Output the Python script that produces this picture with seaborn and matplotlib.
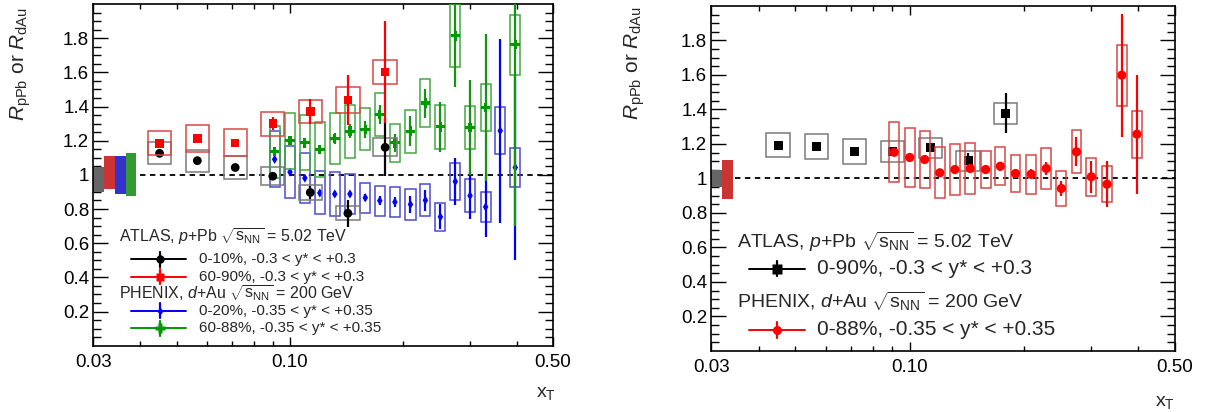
import matplotlib

matplotlib.use("Agg")
import numpy as np
import pandas as pd
import seaborn as sns
import matplotlib.pyplot as plt
from matplotlib.patches import Rectangle
from matplotlib.ticker import FixedLocator, FuncFormatter, NullFormatter

# ---- data ----
# ATLAS p+Pb, xT bin centres (shared by both panels)
atlas_xt = [0.0450, 0.0567, 0.0715, 0.0900, 0.1132, 0.1425, 0.1790]
# left panel: 0-10% and 60-90%
atlas_c010 = [1.126, 1.083, 1.043, 0.992, 0.897, 0.775, 1.161]
atlas_c010_stat = [0.005, 0.005, 0.008, 0.02, 0.04, 0.08, 0.17]
atlas_c010_sys = [0.065, 0.065, 0.068, 0.053, 0.042, 0.04, 0.053]
atlas_c6090 = [1.184, 1.213, 1.187, 1.300, 1.371, 1.439, 1.601]
atlas_c6090_stat = [0.01, 0.015, 0.015, 0.04, 0.075, 0.145, 0.30]
atlas_c6090_sys = [0.07, 0.077, 0.079, 0.07, 0.066, 0.077, 0.071]
# right panel: 0-90%
atlas_c090 = [1.193, 1.184, 1.155, 1.155, 1.178, 1.104, 1.377]
atlas_c090_stat = [0.005, 0.005, 0.008, 0.01, 0.02, 0.045, 0.116]
atlas_c090_sys = [0.068, 0.072, 0.072, 0.061, 0.057, 0.058, 0.062]

# PHENIX d+Au
phenix_xt = [0.0910, 0.1000, 0.1095, 0.1200, 0.1315, 0.1443, 0.1585, 0.1732,
             0.1900, 0.2090, 0.2290, 0.2510, 0.2750, 0.3010, 0.3310, 0.3620,
             0.3970]
phenix_c020 = [1.091, 1.016, 0.981, 0.894, 0.888, 0.888, 0.866, 0.849, 0.841,
               0.827, 0.851, 0.754, 0.961, 0.878, 0.812, 1.258, 1.043]
phenix_c020_stat = [0.015, 0.015, 0.015, 0.015, 0.02, 0.02, 0.02, 0.025, 0.03,
                    0.05, 0.06, 0.073, 0.136, 0.139, 0.176, 0.538, 0.540]
phenix_c020_sys = [0.165, 0.152, 0.148, 0.126, 0.126, 0.116, 0.089, 0.087,
                   0.087, 0.089, 0.094, 0.082, 0.107, 0.096, 0.089, 0.137, 0.114]
# 60-88%: the point at xT~0.36 lies off scale
phenix_c6088_xt = [0.0910, 0.1000, 0.1095, 0.1200, 0.1315, 0.1443, 0.1585,
                   0.1732, 0.1900, 0.2090, 0.2290, 0.2510, 0.2750, 0.3010,
                   0.3310, 0.3970]
phenix_c6088 = [1.136, 1.200, 1.188, 1.149, 1.213, 1.256, 1.266, 1.353, 1.188,
                1.256, 1.420, 1.281, 1.814, 1.277, 1.394, 1.762]
phenix_c6088_stat = [0.02, 0.02, 0.03, 0.02, 0.03, 0.04, 0.048, 0.055, 0.053,
                     0.087, 0.085, 0.147, 0.297, 0.276, 0.43, 1.06]
phenix_c6088_sys = [0.152, 0.163, 0.162, 0.159, 0.15, 0.155, 0.123, 0.126,
                    0.11, 0.126, 0.14, 0.127, 0.184, 0.127, 0.139, 0.176]
# 0-88% (right panel)
phenix_c088 = [1.152, 1.122, 1.110, 1.033, 1.052, 1.058, 1.052, 1.071, 1.029,
               1.025, 1.058, 0.942, 1.155, 1.010, 0.967, 1.599, 1.257]
phenix_c088_stat = [0.02, 0.02, 0.02, 0.02, 0.02, 0.02, 0.025, 0.025, 0.025,
                    0.03, 0.04, 0.045, 0.085, 0.094, 0.135, 0.357, 0.345]
phenix_c088_sys = [0.174, 0.17, 0.167, 0.147, 0.15, 0.15, 0.108, 0.11, 0.106,
                   0.112, 0.117, 0.10, 0.126, 0.11, 0.106, 0.177, 0.137]

# normalisation uncertainty bands at unity (low, high)
left_norm_lo = [0.900, 0.920, 0.890, 0.878]
left_norm_hi = [1.045, 1.110, 1.110, 1.125]
right_norm_lo = [0.949, 0.884]
right_norm_hi = [1.052, 1.110]

y_ticks = [0.2, 0.4, 0.6, 0.8, 1.0, 1.2, 1.4, 1.6, 1.8]
x_ticks = [0.03, 0.10, 0.50]
x_tick_labels = ["0.03", "0.10", "0.50"]
x_minor = [0.04, 0.05, 0.06, 0.07, 0.08, 0.09, 0.2, 0.3, 0.4]

sns.set_theme(style="ticks")
plt.rcParams["font.family"] = ["Liberation Sans", "DejaVu Sans"]
plt.rcParams["mathtext.fontset"] = "custom"
plt.rcParams["mathtext.rm"] = "Liberation Sans"
plt.rcParams["mathtext.it"] = "Liberation Sans:italic"
plt.rcParams["mathtext.sf"] = "Liberation Sans"

fig = plt.figure(figsize=(12.09, 4.12), dpi=100)
ax_l = fig.add_axes([0.07717, 0.16092, 0.38023, 0.82937])
ax_r = fig.add_axes([0.58834, 0.14806, 0.38354, 0.83738])


def draw_series(ax, xs, ys, stat, sys_, half_dec, color, box_color, marker,
                size, ecolor=None, z=3):
    f = 10 ** half_dec
    for x, y, s in zip(xs, ys, sys_):
        ax.add_patch(Rectangle((x / f, y - s), x * f - x / f, 2 * s,
                               fill=False, edgecolor=box_color, lw=1.1,
                               zorder=z))
    lo = np.array(ys) - np.array(stat)
    hi = np.array(ys) + np.array(stat)
    ax.vlines(xs, lo, hi, colors=ecolor or color, lw=1.6, zorder=z + 0.1)
    df = pd.DataFrame({"xt": xs, "r": ys})
    sns.scatterplot(data=df, x="xt", y="r", marker=marker, color=color,
                    s=size, edgecolor="none", linewidth=0, ax=ax,
                    zorder=z + 0.2, legend=False)


def draw_norm(ax, lows, highs, colors, width_dec):
    for i, (lo, hi, c) in enumerate(zip(lows, highs, colors)):
        x0 = 0.03 * 10 ** (width_dec * i)
        x1 = 0.03 * 10 ** (width_dec * (i + 1))
        ax.fill_between([x0, x1], lo, hi, color=c, lw=0, zorder=2)


def style_axes(ax):
    ax.set_xscale("log")
    ax.set_xlim(0.03, 0.5)
    ax.set_ylim(0.0, 2.0)
    ax.xaxis.set_major_locator(FixedLocator(x_ticks))
    ax.xaxis.set_major_formatter(
        FuncFormatter(lambda v, p: x_tick_labels[p] if p is not None and p < 3 else ""))
    ax.xaxis.set_minor_locator(FixedLocator(x_minor))
    ax.xaxis.set_minor_formatter(NullFormatter())
    ax.yaxis.set_major_locator(FixedLocator(y_ticks))
    ax.yaxis.set_minor_locator(FixedLocator(np.arange(0.05, 2.0, 0.05)))
    ax.yaxis.set_major_formatter(FuncFormatter(lambda v, p: "%g" % v))
    ax.tick_params(which="both", direction="in", top=True, right=True,
                   colors="black", labelsize=13.5, width=1.0)
    ax.tick_params(axis="y", which="major", length=10.5, pad=3)
    ax.tick_params(axis="y", which="minor", length=5.5)
    ax.tick_params(axis="x", which="major", length=6.5, pad=6)
    ax.tick_params(axis="x", which="minor", length=3.6)
    for sp in ax.spines.values():
        sp.set_color("black")
        sp.set_linewidth(1.2)
    ax.set_xlabel("")
    ax.set_ylabel("")


def legend_row(ax, y, color, marker, msize, label, fs, x0, x1, xm, xt):
    ax.plot([x0, x1], [y, y], color=color, lw=1.4, transform=ax.transAxes,
            zorder=6)
    ax.plot([xm, xm], [y - 0.022, y + 0.022], color=color, lw=1.6,
            transform=ax.transAxes, zorder=6)
    ax.plot([xm], [y], marker=marker, color=color, ms=msize, mec="none",
            transform=ax.transAxes, zorder=7)
    ax.text(xt, y, label, transform=ax.transAxes, fontsize=fs, va="center",
            ha="left")


# ---- left panel ----
draw_norm(ax_l, left_norm_lo, left_norm_hi,
          ["#666666", "#cc3333", "#3333cc", "#339933"], 0.0287)
ax_l.plot([0.04, 0.5], [1, 1], color="black", lw=1.3, ls=(0, (3, 2.5)),
          zorder=2.5)
draw_series(ax_l, phenix_xt, phenix_c020, phenix_c020_stat, phenix_c020_sys,
            0.0135, "#0000ff", "#4a4ad6", "d", 22, z=3)
draw_series(ax_l, phenix_c6088_xt, phenix_c6088, phenix_c6088_stat,
            phenix_c6088_sys, 0.0135, "#009900", "#44a844", "P", 48,
            ecolor="#129612", z=3.5)
draw_series(ax_l, atlas_xt, atlas_c010, atlas_c010_stat, atlas_c010_sys,
            0.031, "black", "#7a7a7a", "o", 40, z=4)
draw_series(ax_l, atlas_xt, atlas_c6090, atlas_c6090_stat, atlas_c6090_sys,
            0.031, "#ff0000", "#d84848", "s", 38, z=4.5)
style_axes(ax_l)

hdr_l = 11.5
row_l = 11
sqrt_s = r"$\sqrt{\mathrm{s}_{\rm NN}}$"
ax_l.text(0.056, 0.319, r"ATLAS, $p$+Pb " + sqrt_s + " = 5.02 TeV",
          transform=ax_l.transAxes, fontsize=hdr_l, va="center")
legend_row(ax_l, 0.253, "black", "o", 6, "0-10%, -0.3 < y* < +0.3", row_l,
           0.082, 0.202, 0.145, 0.229)
legend_row(ax_l, 0.202, "#ff0000", "s", 6, "60-90%, -0.3 < y* < +0.3", row_l,
           0.082, 0.202, 0.145, 0.229)
ax_l.text(0.056, 0.153, r"PHENIX, $d$+Au " + sqrt_s + " = 200 GeV",
          transform=ax_l.transAxes, fontsize=hdr_l, va="center")
legend_row(ax_l, 0.102, "#0000ff", "d", 4.5, "0-20%, -0.35 < y* < +0.35",
           row_l, 0.082, 0.202, 0.145, 0.229)
legend_row(ax_l, 0.051, "#009900", "P", 6.5, "60-88%, -0.35 < y* < +0.35",
           row_l, 0.082, 0.202, 0.145, 0.229)
ax_l.text(1.006, -0.141, r"x$_{\rm T}$", transform=ax_l.transAxes,
          fontsize=14, ha="right", va="center")

# ---- right panel ----
draw_norm(ax_r, right_norm_lo, right_norm_hi, ["#666666", "#cc3333"], 0.0281)
ax_r.plot([0.0346, 0.5], [1, 1], color="black", lw=1.3, ls=(0, (3, 2.5)),
          zorder=2.5)
draw_series(ax_r, atlas_xt, atlas_c090, atlas_c090_stat, atlas_c090_sys,
            0.0307, "black", "#7a7a7a", "s", 40, z=3)
draw_series(ax_r, phenix_xt, phenix_c088, phenix_c088_stat, phenix_c088_sys,
            0.013, "#ff0000", "#d84848", "o", 44, z=4)
style_axes(ax_r)

hdr_r = 14
row_r = 15
ax_r.text(0.056, 0.317, r"ATLAS, $p$+Pb " + sqrt_s + " = 5.02 TeV",
          transform=ax_r.transAxes, fontsize=hdr_r, va="center")
legend_row(ax_r, 0.238, "black", "s", 6.5, "0-90%, -0.3 < y* < +0.3", row_r,
           0.081, 0.2025, 0.142, 0.228)
ax_r.text(0.056, 0.143, r"PHENIX, $d$+Au " + sqrt_s + " = 200 GeV",
          transform=ax_r.transAxes, fontsize=hdr_r, va="center")
legend_row(ax_r, 0.061, "#ff0000", "o", 6.5, "0-88%, -0.35 < y* < +0.35",
           row_r, 0.081, 0.2025, 0.142, 0.228)
ax_r.text(1.0, -0.148, r"x$_{\rm T}$", transform=ax_r.transAxes,
          fontsize=14, ha="right", va="center")

# y titles, ROOT style: top aligned
ylab = r"$R_{\rm pPb}$ or $R_{\rm dAu}$"
fig.text(0.0174, 0.983, ylab, rotation=90, ha="center", va="top", fontsize=15)
fig.text(0.525, 0.986, ylab, rotation=90, ha="center", va="top", fontsize=15)

fig.savefig("out.png", dpi=100)
plt.close(fig)
